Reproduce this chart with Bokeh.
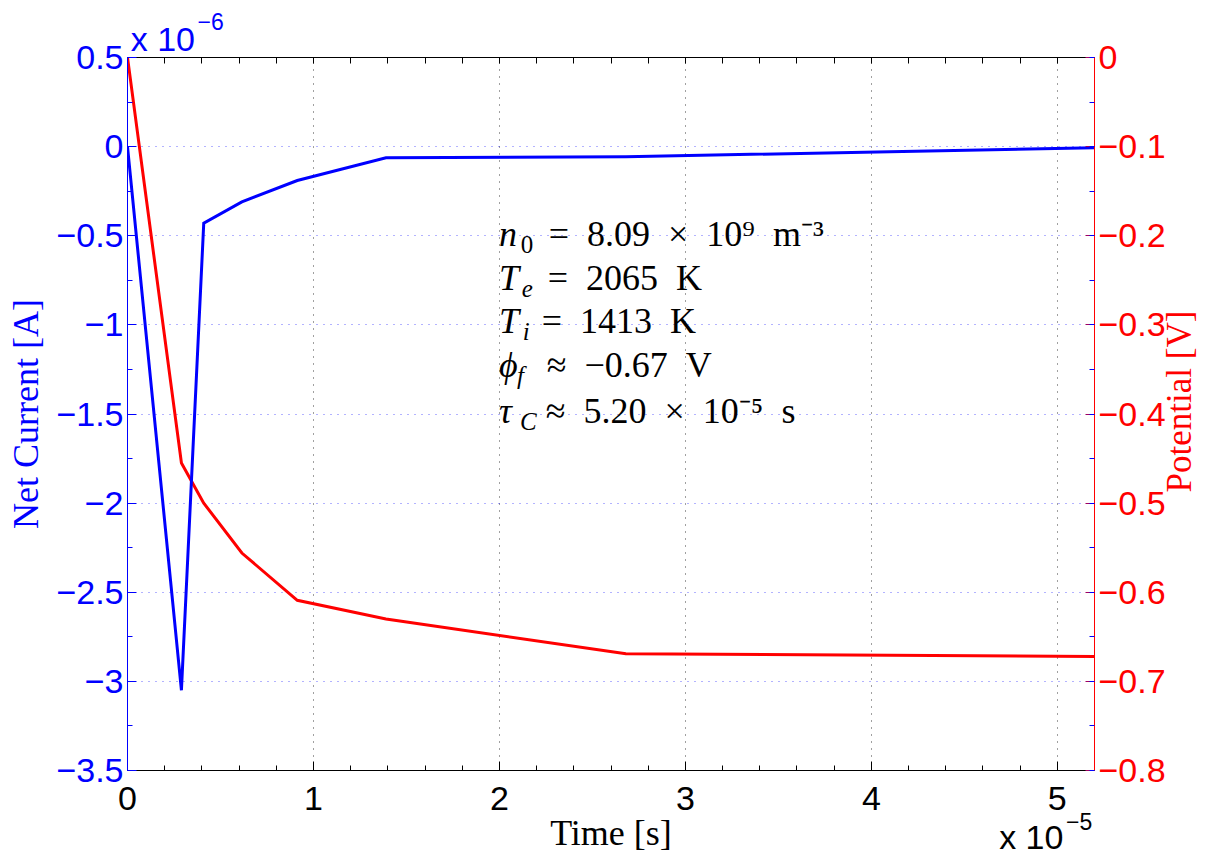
import math
from bokeh.plotting import figure
from bokeh.models import (Range1d, LinearAxis, FixedTicker, CustomJSTickFormatter,
                          Label, Grid)
from bokeh.embed import file_html
from bokeh.resources import INLINE

# ---------------- data ----------------
time_s = [0.0, 0.29e-5, 0.41e-5, 0.615e-5, 0.913e-5, 1.39e-5, 2.68e-5, 5.2e-5]
net_current_A = [0.0, -3.05e-6, -0.43e-6, -0.31e-6, -0.19e-6, -0.063e-6, -0.057e-6, -0.006e-6]
potential_V = [0.0, -0.455, -0.500, -0.556, -0.609, -0.630, -0.669, -0.672]

x_ticks = [0.0, 1e-5, 2e-5, 3e-5, 4e-5, 5e-5]
x_tick_labels = ["0", "1", "2", "3", "4", "5"]
left_ticks = [-3.5e-6, -3e-6, -2.5e-6, -2e-6, -1.5e-6, -1e-6, -0.5e-6, 0.0, 0.5e-6]
left_tick_labels = ["\u22123.5", "\u22123", "\u22122.5", "\u22122", "\u22121.5", "\u22121", "\u22120.5", "0", "0.5"]
right_ticks = [-0.8, -0.7, -0.6, -0.5, -0.4, -0.3, -0.2, -0.1, 0.0]
right_tick_labels = ["\u22120.8", "\u22120.7", "\u22120.6", "\u22120.5", "\u22120.4", "\u22120.3", "\u22120.2", "\u22120.1", "0"]

annotation_lines = [
    ("n", "0", "=\u20028.09\u2002\u00d7\u200210\u2079\u2002m\u207b\u00b3"),
    ("T", "e", "=\u20022065\u2002K"),
    ("T", "i", "=\u20021413\u2002K"),
    ("\u03d5", "f", "\u2248\u2002\u22120.67\u2002V"),
    ("\u03c4", "C", "\u2248\u20025.20\u2002\u00d7\u200210\u207b\u2075\u2002s"),
]

BLUE = "#0000FF"
RED = "#FF0000"
SANS = "Liberation Sans"
SERIF = "Liberation Serif"

X_END = 5.2e-5
p = figure(width=1221, height=865,
           x_range=Range1d(0, X_END), y_range=Range1d(-3.5e-6, 0.5e-6),
           x_axis_type=None, y_axis_type=None,
           output_backend="svg", toolbar_location=None,
           min_border_left=127, min_border_right=123,
           min_border_top=57, min_border_bottom=95)
p.extra_y_ranges = {"pot": Range1d(-0.8, 0.0)}
p.outline_line_color = None
p.background_fill_color = "white"
p.border_fill_color = "white"


def fmt(tick_values, labels):
    return CustomJSTickFormatter(args=dict(tv=tick_values, lb=labels), code="""
        let best = 0; let d = Infinity;
        for (let i = 0; i < tv.length; i++) {
            const e = Math.abs(tv[i] - tick);
            if (e < d) { d = e; best = i; }
        }
        return lb[best];
    """)


def const_fmt(text):
    return CustomJSTickFormatter(args=dict(t=text), code="return t;")


x_minor = [i * 0.2e-5 for i in range(27)]
l_minor = [(-3.5 + 0.25 * i) * 1e-6 for i in range(17)]
r_minor = [-0.8 + 0.05 * i for i in range(17)]

xticker = FixedTicker(ticks=x_ticks, minor_ticks=x_minor)
lticker = FixedTicker(ticks=left_ticks, minor_ticks=l_minor)
rticker = FixedTicker(ticks=right_ticks, minor_ticks=r_minor)

tick_style = dict(major_tick_in=9, major_tick_out=0, minor_tick_in=5, minor_tick_out=0,
                  axis_line_width=1, major_tick_line_width=1, minor_tick_line_width=1,
                  major_label_text_font=SANS, major_label_text_font_size="34px",
                  axis_label_text_font=SERIF, axis_label_text_font_size="36px",
                  axis_label_text_font_style="normal")

# text-only axes (no line, no ticks) used to place texts outside the frame
bare = dict(axis_line_color=None, major_tick_line_color=None, minor_tick_line_color=None,
            major_tick_in=0, major_tick_out=0, minor_tick_in=0, minor_tick_out=0)

# grids
p.add_layout(Grid(dimension=0, ticker=xticker, grid_line_color="black", grid_line_alpha=0.75,
                  grid_line_dash="1 6", grid_line_width=1))
p.add_layout(Grid(dimension=1, ticker=lticker, grid_line_color=BLUE, grid_line_alpha=0.6,
                  grid_line_dash="1 6", grid_line_width=1))

# bottom axis
xaxis = LinearAxis(ticker=xticker, formatter=fmt(x_ticks, x_tick_labels),
                   axis_label="Time [s]", major_label_standoff=16, axis_label_standoff=0,
                   axis_line_color="black", major_tick_line_color="black",
                   minor_tick_line_color="black", major_label_text_color="black",
                   axis_label_text_color="black", **tick_style)
p.add_layout(xaxis, "below")

# bottom exponent "x 10^-5" (pulled up beside the axis title)
p.add_layout(LinearAxis(ticker=FixedTicker(ticks=[4.86e-5], minor_ticks=[]),
                        formatter=const_fmt("x 10"), major_label_standoff=-38,
                        major_label_text_font=SANS, major_label_text_font_size="34px",
                        major_label_text_color="black", **bare), "below")
p.add_layout(LinearAxis(ticker=FixedTicker(ticks=[5.117e-5], minor_ticks=[]),
                        formatter=const_fmt("\u22125"), major_label_standoff=-46,
                        major_label_text_font=SANS, major_label_text_font_size="23px",
                        major_label_text_color="black", **bare), "below")

# top: mirror ticks + exponent "x 10^-6"
top_style = dict(tick_style)
top_style.update(minor_tick_in=6)
p.add_layout(LinearAxis(ticker=FixedTicker(ticks=[0.19e-5], minor_ticks=x_minor),
                        formatter=const_fmt("x 10"), major_label_standoff=0,
                        axis_line_color="black", major_tick_line_color=None,
                        minor_tick_line_color="black", major_label_text_color=BLUE,
                        **top_style), "above")
p.add_layout(LinearAxis(ticker=FixedTicker(ticks=[0.447e-5], minor_ticks=[]),
                        formatter=const_fmt("\u22126"), major_label_standoff=-13,
                        major_label_text_font=SANS, major_label_text_font_size="23px",
                        major_label_text_color=BLUE, **bare), "above")

# left axis
laxis = LinearAxis(ticker=lticker, formatter=fmt(left_ticks, left_tick_labels),
                   axis_label="Net Current [A]", major_label_standoff=4, axis_label_standoff=7,
                   axis_line_color=BLUE, major_tick_line_color=BLUE,
                   minor_tick_line_color=BLUE, major_label_text_color=BLUE,
                   axis_label_text_color=BLUE, **tick_style)
p.add_layout(laxis, "left")

# right axis
raxis = LinearAxis(y_range_name="pot", ticker=rticker, formatter=fmt(right_ticks, right_tick_labels),
                   major_label_standoff=4,
                   axis_line_color=RED, major_tick_line_color="#A0005F",
                   minor_tick_line_color=BLUE, major_label_text_color=RED,
                   **tick_style)
p.add_layout(raxis, "right")

# right axis title, reading bottom to top (starts at the tick value)
p.add_layout(LinearAxis(y_range_name="pot", ticker=FixedTicker(ticks=[-0.488], minor_ticks=[]),
                        formatter=const_fmt("Potential [V]"), major_label_standoff=11,
                        major_label_orientation=math.pi / 2,
                        major_label_text_font=SERIF, major_label_text_font_size="35px",
                        major_label_text_color=RED, **bare), "right")

# lines
p.line(time_s, potential_V, y_range_name="pot", line_color=RED, line_width=3, line_join="miter")
p.line(time_s, net_current_A, line_color=BLUE, line_width=3, line_join="miter")


# helper: reference-pixel position -> data coordinates (left axis)
def dx(px):
    return (px - 127) / 971.0 * X_END


def dy(py):
    return 0.5e-6 - (py - 57) / 713.0 * 4e-6


# half of (ascent - descent) in em: shifts a text baseline to its box middle
MID = {SERIF: 0.3375, SANS: 0.3465}


def lab(text, px, baseline, size, color="black", style="normal", font=SERIF):
    yc = baseline - MID[font] * size
    p.add_layout(Label(x=dx(px), y=dy(yc), text=text, text_font=font,
                       text_font_size=f"{size}px", text_color=color,
                       text_font_style=style, text_baseline="middle",
                       text_align="left"))


# annotation block
baselines = [246, 290, 333, 377, 423]
sub_x = [522, 523, 524, 518, 521]
rest_x = [550, 549, 543, 548, 547]
for (var, sub, rest), b, sx, rx in zip(annotation_lines, baselines, sub_x, rest_x):
    lab(var, 500, b, 36, style="italic")
    lab(sub, sx, b + 6, 25, style="normal" if sub.isdigit() else "italic")
    lab(rest, rx, b, 36)

open("out.html", "w").write(file_html(p, INLINE))
